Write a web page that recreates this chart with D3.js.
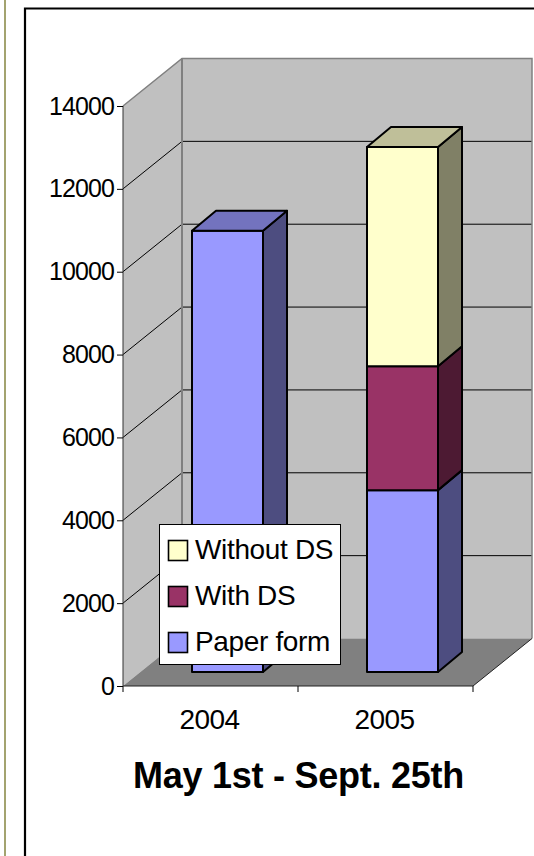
<!DOCTYPE html>
<html><head><meta charset="utf-8"><script src="https://cdn.jsdelivr.net/npm/d3@7"></script>
<style>html,body{margin:0;padding:0;background:#fff;overflow:hidden}svg{display:block}text{font-family:"Liberation Sans",Arial,sans-serif;fill:#000}</style></head>
<body><svg id="c" width="534" height="856"></svg>
<script>
const categories = ["2004", "2005"];
const seriesNames = ["Paper form", "With DS", "Without DS"];
const paperForm = [10650, 4390];
const withDS = [0, 2990];
const withoutDS = [0, 5290];
const yTicks = [0, 2000, 4000, 6000, 8000, 10000, 12000, 14000];
const titleText = "May 1st - Sept. 25th";
const colors = ["#9999ff", "#993366", "#ffffcc"];
const sideColors = ["#4d4d80", "#4d1a33", "#808066"];
const topColors = ["#7373bf", "#73264d", "#bfbf99"];

const svg = d3.select("#c");
const series = [paperForm, withDS, withoutDS];
const y = d3.scaleLinear().domain([0, 14000]).range([686, 106]);
const x = d3.scaleBand().domain(categories).range([123, 473]);
const barW = 71, DX = 59, DY = -47.5, bdx = 24, bdy = -20, off = 17, ofy = -14;
const path = d3.line();

// frame
svg.append("rect").attr("x", 4).attr("y", 0).attr("width", 2).attr("height", 856).attr("fill", "#a3a36f");
svg.append("path").attr("d", "M25,856V8.5H534").attr("fill", "none").attr("stroke", "#000").attr("stroke-width", 2.2);

const x0 = x.range()[0], x1 = x.range()[1];
// walls
svg.append("path").attr("d", path([[x0,y(0)],[x0,y(14000)],[x0+DX,y(14000)+DY],[x0+DX,y(0)+DY]])).attr("fill", "#c0c0c0");
svg.append("rect").attr("x", x0+DX).attr("y", y(14000)+DY).attr("width", x1-x0).attr("height", y(0)-y(14000)).attr("fill", "#c0c0c0");
svg.append("path").attr("d", path([[x0,y(0)],[x1,y(0)],[x1+DX,y(0)+DY],[x0+DX,y(0)+DY]])).attr("fill", "#808080");
// gridlines
yTicks.slice(1, -1).forEach(t => {
  svg.append("path").attr("d", path([[x0,y(t)],[x0+DX,y(t)+DY],[x1+DX,y(t)+DY]])).attr("fill","none").attr("stroke","#000").attr("stroke-width",1);
});
// wall edges
svg.append("path").attr("d", path([[x0,y(14000)],[x0+DX,y(14000)+DY],[x1+DX,y(14000)+DY],[x1+DX,y(0)+DY]])).attr("fill","none").attr("stroke","#808080").attr("stroke-width",1.5);
svg.append("path").attr("d", path([[x0+DX,y(14000)+DY],[x0+DX,y(0)+DY]])).attr("fill","none").attr("stroke","#808080").attr("stroke-width",2);
svg.append("path").attr("d", path([[x0,y(0)],[x1,y(0)],[x1+DX,y(0)+DY]])).attr("fill","none").attr("stroke","#222").attr("stroke-width",1);

// bars
const sy = v => y(v) + ofy;
categories.forEach((c, i) => {
  const left = x(c) + (x.bandwidth() - barW)/2 + off, right = left + barW;
  let acc = 0;
  series.forEach((s, k) => {
    const v = s[i];
    if (!v) return;
    const yb = sy(acc), yt = sy(acc + v);
    acc += v;
    const g = svg.append("g").attr("stroke","#000").attr("stroke-width",2).attr("stroke-linejoin","round");
    g.append("path").attr("d", path([[right,yb],[right+bdx,yb+bdy],[right+bdx,yt+bdy],[right,yt]])+"Z").attr("fill", sideColors[k]);
    g.append("rect").attr("x",left).attr("y",yt).attr("width",barW).attr("height",yb-yt).attr("fill",colors[k]);
    const isTop = series.slice(k+1).every(a => !a[i]);
    if (isTop) g.append("path").attr("d", path([[left,yt],[left+bdx,yt+bdy],[right+bdx,yt+bdy],[right,yt]])+"Z").attr("fill", topColors[k]);
  });
});

// axes
const ax = svg.append("g").attr("transform", `translate(${x0},0)`).call(d3.axisLeft(y).tickValues(yTicks).tickFormat(d3.format("d")).tickSize(6).tickPadding(3));
ax.select(".domain").attr("stroke","#333").attr("d", `M0,${y(0)}V${y(14000)}`);
ax.selectAll("line").attr("stroke","#000");
ax.selectAll("text").attr("font-size",25).attr("font-family",'"Liberation Sans",Arial,sans-serif').style("letter-spacing","-0.9px").attr("fill","#000");

const bx = svg.append("g");
[x0, x0+x.bandwidth(), x1].forEach(v => bx.append("line").attr("x1",v).attr("x2",v).attr("y1",y(0)).attr("y2",y(0)+6).attr("stroke","#000"));
categories.forEach(c => bx.append("text").attr("x", x(c)+x.bandwidth()/2-1).attr("y",729).attr("text-anchor","middle").attr("font-size",28).style("letter-spacing","-0.6px").text(c));

svg.append("text").attr("x",298.5).attr("y",788).attr("text-anchor","middle").attr("font-size",36).attr("font-weight","bold").style("letter-spacing","-0.25px").text(titleText);

// legend
const leg = svg.append("g");
leg.append("rect").attr("x",159.5).attr("y",524.5).attr("width",181).attr("height",140).attr("fill","#fff").attr("stroke","#000");
[2,1,0].forEach((k,j) => {
  const cy = 550.5 + j*46;
  leg.append("rect").attr("x",168.5).attr("y",cy-10).attr("width",19).attr("height",20).attr("fill",colors[k]).attr("stroke","#000").attr("stroke-width",1.6);
  leg.append("text").attr("x",195).attr("y",cy+8).attr("font-size",28).style("letter-spacing","-0.35px").text(seriesNames[k]);
});
</script></body></html>
